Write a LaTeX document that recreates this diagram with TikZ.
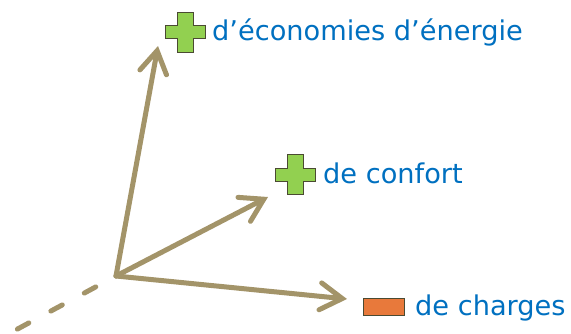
\documentclass[tikz,border=0pt]{standalone}
\usepackage{fontspec}
\setmainfont{DejaVu Sans}
\usetikzlibrary{arrows.meta}
\definecolor{axecol}{HTML}{A39469}
\definecolor{bleu}{HTML}{0070C0}
\definecolor{vert}{HTML}{92D050}
\definecolor{orange}{HTML}{E8793B}
\definecolor{contour}{HTML}{4A4A32}
\tikzset{
  axe/.style={draw=axecol, line width=5pt, line cap=round,
    -{Straight Barb[length=22pt,width=27pt,line cap=round]}},
  lbl/.style={anchor=base west, inner sep=0pt, text=bleu,
    font=\fontsize{27.2}{30}\selectfont},
  plus/.pic={
    \draw[fill=vert, draw=contour, line width=0.8pt]
      (-8,-20) -- (8,-20) -- (8,-6.5) -- (20,-6.5) -- (20,6.5) -- (8,6.5)
      -- (8,20) -- (-8,20) -- (-8,6.5) -- (-20,6.5) -- (-20,-6.5) -- (-8,-6.5) -- cycle;
  }
}
\begin{document}
\begin{tikzpicture}[x=1pt,y=-1pt]
  \useasboundingbox (0,0) rectangle (571,333);
  % origine et extremites des axes
  \coordinate (o) at (116,276);
  \coordinate (teco) at (158,46);
  \coordinate (tconf) at (268,197);
  \coordinate (tch) at (347,299);
  \coordinate (queue) at (12,332);
  % axes
  \draw[draw=axecol, line width=5pt, line cap=round,
    dash pattern=on 13pt off 25pt, dash phase=15pt] (o) -- (queue);
  \draw[axe] (o) -- (teco);
  \draw[axe] (o) -- (tconf);
  \draw[axe] (o) -- (tch);
  % legendes
  \pic (peco) at (185,32) {plus};
  \node[lbl] (eco) at (212,40) {d’économies d’énergie};
  \pic (pconf) at (295,174.5) {plus};
  \node[lbl] (conf) at (323,183) {de confort};
  \draw[fill=orange, draw=contour, line width=0.8pt] (363,298) rectangle (404,315);
  \node[lbl] (ch) at (415,315) {de charges};
\end{tikzpicture}
\end{document}
